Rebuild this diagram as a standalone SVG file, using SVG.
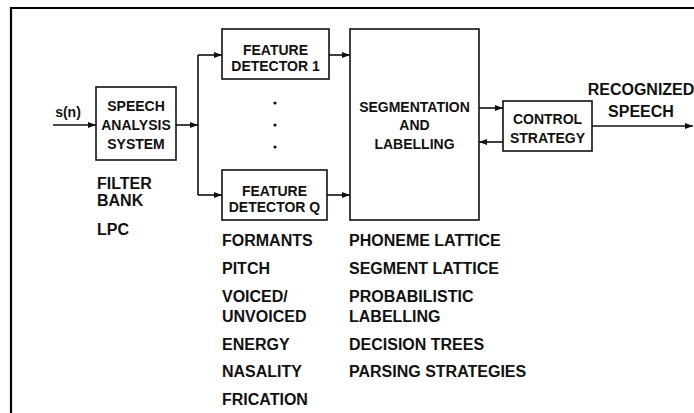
<svg xmlns="http://www.w3.org/2000/svg" width="694" height="413" viewBox="0 0 694 413">
  <style>
    .box { fill: #fff; stroke: #111; stroke-width: 1.6; }
    .wire { fill: none; stroke: #111; stroke-width: 1.6; }
    .frame { fill: none; stroke: #000; stroke-width: 2.2; }
    .lbl { font-family: "Liberation Sans", Arial, sans-serif; font-weight: bold; font-size: 14px; fill: #111; text-anchor: middle; }
    .note { font-family: "Liberation Sans", Arial, sans-serif; font-weight: bold; font-size: 16px; fill: #111; }
  </style>
  <defs>
    <marker id="arr" markerWidth="8" markerHeight="6" refX="8" refY="3" orient="auto" markerUnits="userSpaceOnUse">
      <path d="M0,0 L8,3 L0,6 z" fill="#111"/>
    </marker>
  </defs>

  <rect width="694" height="413" fill="#fff"/>

  <!-- page frame -->
  <path class="frame" d="M11,413 V8 H694"/>

  <!-- connectors -->
  <g id="connectors">
    <line class="wire" x1="53" y1="125" x2="96" y2="125" marker-end="url(#arr)"/>
    <line class="wire" x1="176" y1="125" x2="198" y2="125" marker-end="url(#arr)"/>
    <path class="wire" d="M198,55 V195"/>
    <line class="wire" x1="198" y1="55" x2="222" y2="55" marker-end="url(#arr)"/>
    <line class="wire" x1="198" y1="195" x2="222" y2="195" marker-end="url(#arr)"/>
    <line class="wire" x1="329" y1="55" x2="350" y2="55" marker-end="url(#arr)"/>
    <line class="wire" x1="327" y1="195" x2="350" y2="195" marker-end="url(#arr)"/>
    <line class="wire" x1="479" y1="108" x2="503" y2="108" marker-end="url(#arr)"/>
    <line class="wire" x1="503" y1="142" x2="479" y2="142" marker-end="url(#arr)"/>
    <line class="wire" x1="592" y1="126" x2="693" y2="126" marker-end="url(#arr)"/>
  </g>

  <text class="lbl" x="68" y="117">s(n)</text>

  <g id="speech-analysis">
    <rect class="box" x="96" y="87" width="80" height="73"/>
    <text class="lbl" x="136" y="111">SPEECH</text>
    <text class="lbl" x="136" y="130">ANALYSIS</text>
    <text class="lbl" x="136" y="149">SYSTEM</text>
  </g>

  <g id="feature-detector-1">
    <rect class="box" x="222" y="29" width="107" height="50"/>
    <text class="lbl" x="275.5" y="55">FEATURE</text>
    <text class="lbl" x="275.5" y="71">DETECTOR 1</text>
  </g>

  <g id="ellipsis">
    <circle cx="275" cy="103" r="1.6" fill="#111"/>
    <circle cx="275" cy="125" r="1.6" fill="#111"/>
    <circle cx="275" cy="147" r="1.6" fill="#111"/>
  </g>

  <g id="feature-detector-q">
    <rect class="box" x="222" y="170" width="105" height="50"/>
    <text class="lbl" x="274.5" y="196">FEATURE</text>
    <text class="lbl" x="274.5" y="212">DETECTOR Q</text>
  </g>

  <g id="segmentation">
    <rect class="box" x="350" y="29" width="129" height="191"/>
    <text class="lbl" x="414.5" y="112">SEGMENTATION</text>
    <text class="lbl" x="414.5" y="130">AND</text>
    <text class="lbl" x="414.5" y="149">LABELLING</text>
  </g>

  <g id="control-strategy">
    <rect class="box" x="503" y="101" width="89" height="50"/>
    <text class="lbl" x="547.5" y="124">CONTROL</text>
    <text class="lbl" x="547.5" y="143">STRATEGY</text>
  </g>

  <g id="output-label">
    <text class="note" x="641" y="95" text-anchor="middle">RECOGNIZED</text>
    <text class="note" x="641" y="117" text-anchor="middle">SPEECH</text>
  </g>

  <g id="analysis-notes">
    <text class="note" x="97" y="189">FILTER</text>
    <text class="note" x="97" y="206">BANK</text>
    <text class="note" x="97" y="235">LPC</text>
  </g>

  <g id="feature-notes">
    <text class="note" x="222" y="246">FORMANTS</text>
    <text class="note" x="222" y="274">PITCH</text>
    <text class="note" x="222" y="302">VOICED/</text>
    <text class="note" x="222" y="322">UNVOICED</text>
    <text class="note" x="222" y="350">ENERGY</text>
    <text class="note" x="222" y="377">NASALITY</text>
    <text class="note" x="222" y="405">FRICATION</text>
  </g>

  <g id="segmentation-notes">
    <text class="note" x="349" y="246">PHONEME LATTICE</text>
    <text class="note" x="349" y="274">SEGMENT LATTICE</text>
    <text class="note" x="349" y="302">PROBABILISTIC</text>
    <text class="note" x="349" y="322">LABELLING</text>
    <text class="note" x="349" y="350">DECISION TREES</text>
    <text class="note" x="349" y="377">PARSING STRATEGIES</text>
  </g>
</svg>
